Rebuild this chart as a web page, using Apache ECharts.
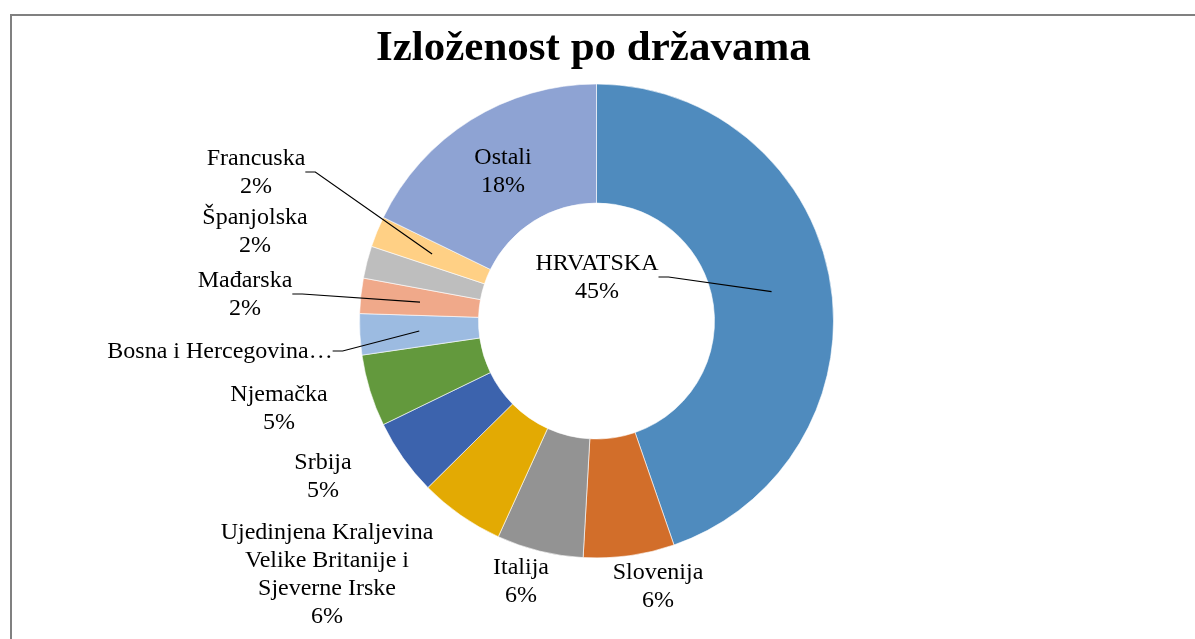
<!DOCTYPE html>
<html lang="hr">
<head>
    <meta charset="UTF-8">
    <title>Izloženost po državama</title>
    <script src="https://cdn.jsdelivr.net/npm/echarts@6/dist/echarts.min.js"></script>
</head>
<body style="margin:0;background:#fff;">
<div id="main" style="width:1195px;height:639px;"></div>
<script type="text/javascript">
    // podaci (udio u %)
    var countries = ['HRVATSKA', 'Slovenija', 'Italija',
        'Ujedinjena Kraljevina\nVelike Britanije i\nSjeverne Irske',
        'Srbija', 'Njemačka', 'Bosna i Hercegovina', 'Mađarska',
        'Španjolska', 'Francuska', 'Ostali'];
    var shares = [44.7, 6.2, 5.9, 5.8, 5.2, 4.9, 2.8, 2.4, 2.2, 2.1, 17.8];
    var colors = ['#4f8bbe', '#d26e2a', '#939393', '#e3aa03', '#3c63ad', '#63993d',
        '#9cbbe1', '#f0a98a', '#bebebe', '#ffd085', '#8ea3d3'];

    // geometrija prstena
    var cx = 596.5, cy = 321, r0 = 118, r1 = 237;
    // sredista natpisa
    var labelPos = [[597, 278], [658, 587], [521, 582], [327, 575], [323, 477], [279, 409],
        [220, 352], [245, 295], [255, 232], [256, 173], [503, 172]];
    var lineIdx = [0, 6, 7, 9];

    var total = shares.reduce(function (a, b) { return a + b; }, 0);

    function midAnchor(i) {
        var before = 0;
        for (var k = 0; k < i; k++) before += shares[k];
        var a = 2 * Math.PI * (before + shares[i] / 2) / total;
        var r = (r0 + r1) / 2;
        return [cx + r * Math.sin(a), cy - r * Math.cos(a)];
    }

    var myChart = echarts.init(document.getElementById('main'));

    var option = {
        animation: false,
        title: {
            text: 'Izloženost po državama',
            left: 371,
            top: 22,
            textStyle: {
                fontFamily: 'Liberation Serif',
                fontSize: 43,
                fontWeight: 'bold',
                color: '#000'
            }
        },
        graphic: [
            {type: 'line', shape: {x1: 10, y1: 15, x2: 1195, y2: 15}, style: {stroke: '#808080', lineWidth: 2}},
            {type: 'line', shape: {x1: 11, y1: 14, x2: 11, y2: 639}, style: {stroke: '#808080', lineWidth: 2}}
        ],
        series: [{
            // prsten
            type: 'pie',
            z: 2,
            center: [cx, cy],
            radius: [r0, r1],
            startAngle: 90,
            clockwise: true,
            silent: true,
            emphasis: {disabled: true},
            itemStyle: {borderColor: '#fff', borderWidth: 0.6},
            label: {show: false},
            labelLine: {show: false},
            data: countries.map(function (n, i) {
                return {name: n, value: shares[i], itemStyle: {color: colors[i]}};
            })
        }, {
            // natpisi i linije iznad prstena
            type: 'pie',
            z: 5,
            center: [cx, cy],
            radius: [r0, r1],
            startAngle: 90,
            clockwise: true,
            silent: true,
            avoidLabelOverlap: false,
            emphasis: {disabled: true},
            itemStyle: {color: 'rgba(0,0,0,0)', borderWidth: 0},
            label: {
                position: 'outside',
                color: '#000',
                fontFamily: 'Liberation Serif',
                fontSize: 24,
                lineHeight: 28,
                formatter: function (p) {
                    if (p.dataIndex === 6) return p.name + '…';
                    return p.name + '\n' + Math.round(p.percent) + '%';
                }
            },
            labelLine: {
                show: true,
                length: 10,
                length2: 10,
                lineStyle: {color: '#000', width: 1.2}
            },
            labelLayout: function (p) {
                var i = p.dataIndex;
                var pos = labelPos[i];
                var res = {x: pos[0], y: pos[1], align: 'center', verticalAlign: 'middle'};
                if (lineIdx.indexOf(i) >= 0) {
                    var sx = pos[0] + p.labelRect.width / 2;
                    var sy = pos[1] - 1;
                    res.labelLinePoints = [[sx, sy], [sx + 10, sy], midAnchor(i)];
                }
                return res;
            },
            data: countries.map(function (n, i) {
                return {
                    name: n,
                    value: shares[i],
                    labelLine: {show: lineIdx.indexOf(i) >= 0}
                };
            })
        }]
    };
    myChart.setOption(option);
</script>
</body>
</html>
